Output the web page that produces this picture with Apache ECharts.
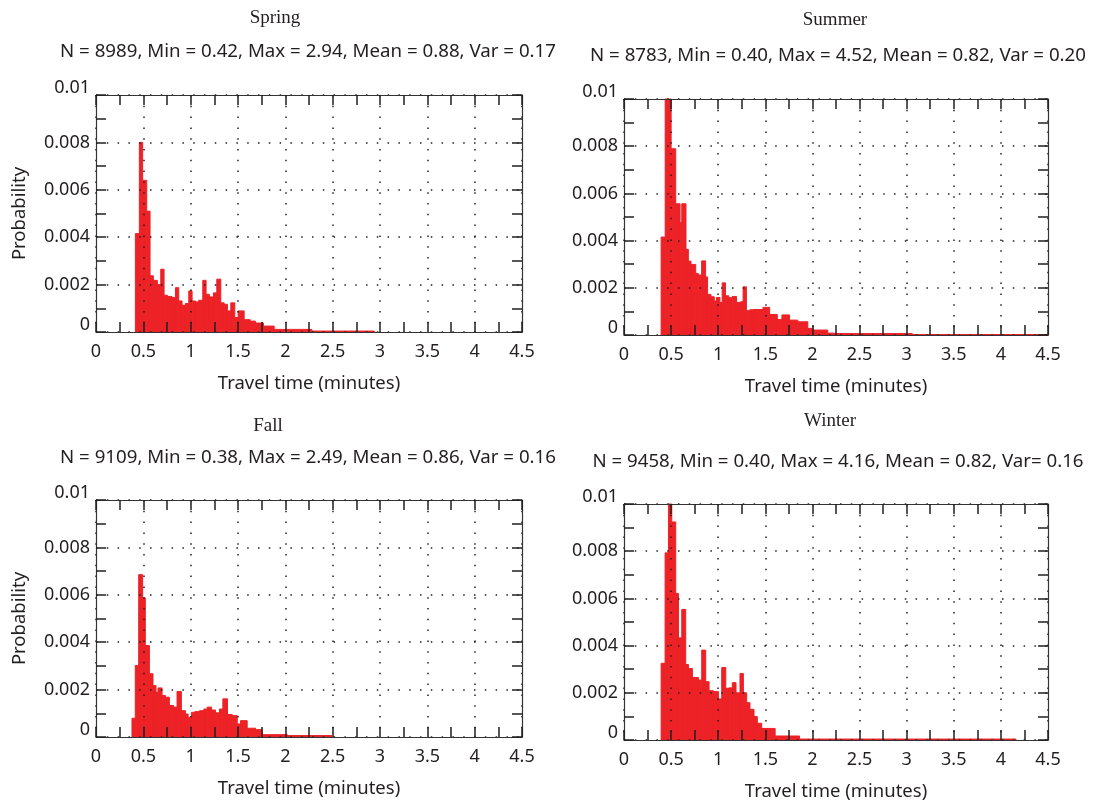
<!DOCTYPE html>
<html>
<head>
<meta charset="utf-8">
<title>Travel time histograms by season</title>
<script src="https://cdn.jsdelivr.net/npm/echarts@6/dist/echarts.min.js"></script>
<style>
  html, body { margin: 0; padding: 0; background: #fff; }
  #main { width: 1093px; height: 806px; }
</style>
</head>
<body>
<div id="main"></div>
<script>
// ---- data ----
var seasons = ['Spring', 'Summer', 'Fall', 'Winter'];
var stats = [
    'N = 8989, Min = 0.42, Max = 2.94, Mean = 0.88, Var = 0.17',
    'N = 8783, Min = 0.40, Max = 4.52, Mean = 0.82, Var = 0.20',
    'N = 9109, Min = 0.38, Max = 2.49, Mean = 0.86, Var = 0.16',
    'N = 9458, Min = 0.40, Max = 4.16, Mean = 0.82, Var= 0.16'
];
var xTicks = ['0', '0.5', '1', '1.5', '2', '2.5', '3', '3.5', '4', '4.5'];
var yTicks = ['0', '0.002', '0.004', '0.006', '0.008', '0.01'];

// bin edges (minutes) and probability of each bin
var springEdges = [0.416, 0.458, 0.493, 0.536, 0.571, 0.606, 0.648, 0.684, 0.719, 0.754, 0.803, 0.839, 0.874, 0.909, 0.944, 0.980, 1.015, 1.050, 1.085, 1.128, 1.163, 1.198, 1.240, 1.276, 1.318, 1.353, 1.388, 1.424, 1.466, 1.501, 1.565, 1.628, 1.684, 1.769, 1.882, 2.280, 2.940];
var springProb = [0.00415, 0.0080, 0.0064, 0.0051, 0.00237, 0.00218, 0.0020, 0.00265, 0.00155, 0.0015, 0.00145, 0.00187, 0.00131, 0.00113, 0.0012, 0.00173, 0.00131, 0.00127, 0.00134, 0.00218, 0.00159, 0.00148, 0.00165, 0.00223, 0.00123, 0.00117, 0.00089, 0.00123, 0.00061, 0.00089, 0.00052, 0.00046, 0.00038, 0.00025, 0.00011, 0.00004];

var summerEdges = [0.394, 0.437, 0.500, 0.549, 0.595, 0.613, 0.658, 0.683, 0.711, 0.761, 0.789, 0.824, 0.866, 0.887, 0.923, 0.958, 0.982, 1.018, 1.042, 1.077, 1.113, 1.148, 1.194, 1.239, 1.264, 1.299, 1.335, 1.380, 1.475, 1.546, 1.627, 1.676, 1.757, 1.845, 1.951, 2.004, 2.162, 2.232, 3.060, 4.520];
var summerProb = [0.00415, 0.0100, 0.00789, 0.00556, 0.00476, 0.00556, 0.00363, 0.00313, 0.00299, 0.00261, 0.00254, 0.00314, 0.00246, 0.00172, 0.00162, 0.00144, 0.00159, 0.00138, 0.00221, 0.00166, 0.00158, 0.00163, 0.00138, 0.00141, 0.00204, 0.00103, 0.00107, 0.00108, 0.00117, 0.00087, 0.00066, 0.00085, 0.00063, 0.00056, 0.00028, 0.00021, 0.00008, 0.00006, 0.00002];

var fallEdges = [0.380, 0.415, 0.451, 0.493, 0.521, 0.564, 0.602, 0.634, 0.655, 0.698, 0.733, 0.775, 0.821, 0.856, 0.902, 0.945, 0.973, 1.008, 1.043, 1.093, 1.139, 1.174, 1.220, 1.262, 1.305, 1.340, 1.389, 1.439, 1.492, 1.527, 1.597, 1.686, 1.756, 2.021, 2.490];
var fallProb = [0.00079, 0.00302, 0.00685, 0.00587, 0.00386, 0.00267, 0.00217, 0.00189, 0.00207, 0.00175, 0.00168, 0.00133, 0.00126, 0.00192, 0.00111, 0.00097, 0.00083, 0.00104, 0.00107, 0.00111, 0.00118, 0.00126, 0.00114, 0.00102, 0.00118, 0.00161, 0.00095, 0.0009, 0.00055, 0.00069, 0.00037, 0.00031, 0.0001, 0.00006];

var winterEdges = [0.394, 0.436, 0.472, 0.507, 0.549, 0.578, 0.613, 0.655, 0.684, 0.726, 0.790, 0.825, 0.867, 0.903, 0.949, 1.002, 1.037, 1.080, 1.115, 1.150, 1.189, 1.231, 1.267, 1.302, 1.337, 1.380, 1.415, 1.461, 1.516, 1.604, 1.863, 4.160];
var winterProb = [0.00325, 0.00793, 0.0100, 0.00924, 0.00621, 0.00433, 0.00553, 0.0032, 0.00303, 0.00265, 0.00254, 0.00381, 0.00247, 0.00209, 0.00205, 0.00174, 0.00307, 0.00219, 0.00221, 0.00243, 0.002, 0.00282, 0.002, 0.00158, 0.0013, 0.00099, 0.00071, 0.00049, 0.00049, 0.00017, 0.00004];

var allEdges = [springEdges, summerEdges, fallEdges, winterEdges];
var allProb = [springProb, summerProb, fallProb, winterProb];

// ---- layout ----
var boxes = [
    { left: 96, top: 95, width: 426, height: 237 },
    { left: 624, top: 99, width: 424, height: 236 },
    { left: 96, top: 500, width: 426, height: 237 },
    { left: 624, top: 504, width: 424, height: 236 }
];
var titlePos = [[275, 18], [835, 20], [268, 426], [830, 421]];
var statsPos = [[308, 52], [838, 56], [308, 458], [838, 462]];

var ink = '#231f20';
var red = '#ec2227';
var sans = '"Noto Sans", "Open Sans", sans-serif';
var dotted = { type: [1.5, 9.3], color: ink, width: 1.5 };

var chart = echarts.init(document.getElementById('main'));

function binRect(params, api) {
    var lo = api.coord([api.value(0), api.value(2)]);
    var hi = api.coord([api.value(1), 0]);
    var cs = params.coordSys;
    var shape = echarts.graphic.clipRectByRect(
        { x: lo[0], y: lo[1], width: hi[0] - lo[0], height: hi[1] - lo[1] },
        { x: cs.x, y: cs.y, width: cs.width, height: cs.height }
    );
    return shape && {
        type: 'rect',
        shape: shape,
        style: { fill: red, stroke: red, lineWidth: 1 }
    };
}

var grids = [], xAxes = [], yAxes = [], series = [], texts = [];

for (var i = 0; i < 4; i++) {
    var b = boxes[i];
    grids.push({ left: b.left, top: b.top, width: b.width, height: b.height, outerBoundsMode: 'none' });

    var tickStyle = { show: true, inside: true, length: 10, lineStyle: { color: ink, width: 1.5 } };
    var minorStyle = { show: true, splitNumber: 2, length: 10, lineStyle: { color: ink, width: 1.5 } };
    var lineStyle = { show: true, onZero: false, lineStyle: { color: '#333', width: 1.2 } };

    // bottom x axis with labels
    xAxes.push({
        gridIndex: i, type: 'value', position: 'bottom', min: 0, max: 4.5, interval: 0.5, z: 4,
        axisLine: lineStyle, axisTick: tickStyle, minorTick: minorStyle,
        splitLine: { show: false },
        axisLabel: {
            margin: 11, fontSize: 18, fontFamily: sans, color: ink,
            showMinLabel: true, showMaxLabel: true,
            formatter: function (v) { return xTicks[Math.round(v / 0.5)]; }
        },
        name: 'Travel time (minutes)', nameLocation: 'middle', nameGap: 42,
        nameTextStyle: { fontSize: 18.5, fontFamily: sans, color: ink }
    });
    // top x axis: ticks + dotted grid
    xAxes.push({
        gridIndex: i, type: 'value', position: 'top', min: 0, max: 4.5, interval: 0.5, z: 4,
        axisLine: lineStyle, axisTick: tickStyle, minorTick: minorStyle,
        axisLabel: { show: false },
        splitLine: { show: true, lineStyle: dotted }
    });
    // left y axis with labels
    var yLeft = {
        gridIndex: i, type: 'value', position: 'left', min: 0, max: 0.01, interval: 0.002, z: 4,
        axisLine: lineStyle, axisTick: tickStyle, minorTick: minorStyle,
        splitLine: { show: false },
        axisLabel: {
            margin: 6, fontSize: 18, fontFamily: sans, color: ink, lineHeight: 14,
            showMinLabel: true, showMaxLabel: true,
            verticalAlignMinLabel: 'bottom', verticalAlignMaxLabel: 'bottom',
            formatter: function (v) { return yTicks[Math.round(v / 0.002)]; }
        }
    };
    if (i % 2 === 0) {
        yLeft.name = 'Probability';
        yLeft.nameLocation = 'middle';
        yLeft.nameGap = 67;
        yLeft.nameTextStyle = { fontSize: 18.5, fontFamily: sans, color: ink };
    }
    yAxes.push(yLeft);
    // right y axis: ticks + dotted grid
    yAxes.push({
        gridIndex: i, type: 'value', position: 'right', min: 0, max: 0.01, interval: 0.002, z: 4,
        axisLine: lineStyle, axisTick: tickStyle, minorTick: minorStyle,
        axisLabel: { show: false },
        splitLine: { show: true, lineStyle: dotted }
    });

    var bins = [];
    for (var k = 0; k < allProb[i].length; k++) {
        bins.push([allEdges[i][k], allEdges[i][k + 1], allProb[i][k]]);
    }
    series.push({
        name: seasons[i], type: 'custom', xAxisIndex: 2 * i, yAxisIndex: 2 * i, z: 2,
        renderItem: binRect, encode: { x: [0, 1], y: 2 }, data: bins, silent: true
    });

    texts.push({
        type: 'text', x: titlePos[i][0], y: titlePos[i][1],
        style: { text: seasons[i], font: '19px "Liberation Serif", serif', fill: ink,
                 align: 'center', verticalAlign: 'middle', textAlign: 'center', textVerticalAlign: 'middle' }
    });
    texts.push({
        type: 'text', x: statsPos[i][0], y: statsPos[i][1],
        style: { text: stats[i], font: '18.7px ' + sans, fill: ink,
                 align: 'center', verticalAlign: 'middle', textAlign: 'center', textVerticalAlign: 'middle' }
    });
}

var option = {
    backgroundColor: '#fff',
    animation: false,
    grid: grids,
    xAxis: xAxes,
    yAxis: yAxes,
    series: series,
    graphic: texts
};
chart.setOption(option);
</script>
</body>
</html>
